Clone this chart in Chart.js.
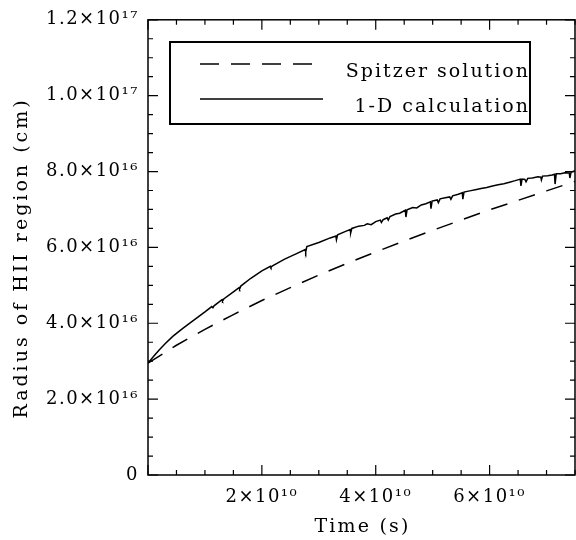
<!DOCTYPE html>
<html>
<head>
<meta charset="utf-8">
<script src="https://cdn.jsdelivr.net/npm/chart.js@4/dist/chart.umd.min.js"></script>
<style>
  html, body { margin: 0; padding: 0; background: #fff; }
</style>
</head>
<body>
<canvas id="myChart" width="576" height="540"></canvas>
<script>
// time in units of 1e10 s, radius in units of 1e16 cm
const spitzerTime = [0, 0.5, 1, 1.5, 2, 2.5, 3, 3.5, 4, 4.5, 5, 5.5, 6, 6.5, 7, 7.5];
const spitzerRadius = [2.95, 3.42, 3.84, 4.23, 4.60, 4.94, 5.27, 5.58, 5.88, 6.17, 6.45, 6.72, 6.99, 7.24, 7.49, 7.74];

const calcTime = [
  0.00, 0.10, 0.20, 0.30, 0.44, 0.60, 0.74, 0.90, 1.00, 1.12, 1.14, 1.16, 1.30, 1.31, 1.33,
  1.50, 1.60, 1.61, 1.63, 1.80, 2.00, 2.15, 2.16, 2.18, 2.40, 2.60, 2.76, 2.77, 2.79,
  3.00, 3.20, 3.30, 3.31, 3.33, 3.45, 3.55, 3.56, 3.58, 3.70, 3.80, 3.85, 3.92, 4.00,
  4.08, 4.10, 4.13, 4.20, 4.22, 4.25, 4.35, 4.42, 4.52, 4.53, 4.55, 4.65, 4.72, 4.80,
  4.88, 4.96, 4.97, 4.99, 5.08, 5.10, 5.13, 5.22, 5.30, 5.32, 5.35, 5.45, 5.52, 5.53,
  5.55, 5.65, 5.75, 5.85, 5.95, 6.05, 6.15, 6.25, 6.35, 6.45, 6.54, 6.55, 6.57, 6.62,
  6.64, 6.67, 6.75, 6.85, 6.90, 6.91, 6.93, 7.02, 7.10, 7.14, 7.15, 7.17, 7.25, 7.32,
  7.40, 7.41, 7.43, 7.50
];
const calcRadius = [
  2.95, 3.13, 3.30, 3.46, 3.66, 3.85, 4.01, 4.19, 4.30, 4.44, 4.41, 4.46, 4.62, 4.59, 4.64,
  4.83, 4.94, 4.91, 4.98, 5.18, 5.38, 5.50, 5.47, 5.51, 5.69, 5.83, 5.94, 5.88, 6.02,
  6.13, 6.25, 6.30, 6.20, 6.33, 6.41, 6.47, 6.38, 6.50, 6.56, 6.58, 6.62, 6.60, 6.68,
  6.72, 6.66, 6.73, 6.78, 6.72, 6.81, 6.88, 6.90, 6.98, 6.80, 6.99, 7.05, 7.04, 7.12,
  7.15, 7.20, 7.02, 7.22, 7.25, 7.18, 7.28, 7.31, 7.33, 7.27, 7.36, 7.40, 7.44, 7.27,
  7.46, 7.49, 7.52, 7.55, 7.58, 7.62, 7.65, 7.68, 7.72, 7.76, 7.80, 7.62, 7.80, 7.79,
  7.73, 7.82, 7.83, 7.86, 7.85, 7.78, 7.88, 7.89, 7.91, 7.93, 7.67, 7.94, 7.94, 7.97,
  7.96, 7.83, 7.98, 8.02
];

const xTickValues = [2, 4, 6];
const xTickLabels = ["2×10¹⁰", "4×10¹⁰", "6×10¹⁰"];
const yTickValues = [0, 2, 4, 6, 8, 10, 12];
const yTickLabels = ["0", "2.0×10¹⁶", "4.0×10¹⁶", "6.0×10¹⁶", "8.0×10¹⁶", "1.0×10¹⁷", "1.2×10¹⁷"];

const legendLabels = ["Spitzer solution", "1-D calculation"];
const xTitle = "Time (s)";
const yTitle = "Radius of HII region (cm)";

const FONT = "'DejaVu Serif', serif";

const toPoints = (xs, ys) => xs.map((v, i) => ({ x: v, y: ys[i] }));

// wide letters like the original plotting font
const spacing = {
  id: 'spacing',
  beforeDraw(chart) { chart.ctx.letterSpacing = '1.5px'; }
};

// box round the plot with inward ticks on all four sides, plus axis titles
const frameTicks = {
  id: 'frameTicks',
  afterDraw(chart) {
    const { ctx, chartArea: a, scales: { x, y } } = chart;
    ctx.save();
    ctx.strokeStyle = '#000';
    ctx.lineWidth = 1.5;
    ctx.strokeRect(a.left, a.top, a.right - a.left, a.bottom - a.top);
    ctx.lineWidth = 1.2;
    ctx.beginPath();
    for (let v = 0; v <= x.max + 0.001; v += 0.5) {
      const px = x.getPixelForValue(v);
      const len = (v % 2 === 0) ? 10 : 5;
      ctx.moveTo(px, a.bottom); ctx.lineTo(px, a.bottom - len);
      ctx.moveTo(px, a.top); ctx.lineTo(px, a.top + len);
    }
    for (let v = 0; v <= y.max + 0.001; v += 0.5) {
      const py = y.getPixelForValue(v);
      const len = (v % 2 === 0) ? 10 : 5;
      ctx.moveTo(a.left, py); ctx.lineTo(a.left + len, py);
      ctx.moveTo(a.right, py); ctx.lineTo(a.right - len, py);
    }
    ctx.stroke();

    ctx.fillStyle = '#000';
    ctx.font = "19px " + FONT;
    ctx.textAlign = 'center';
    ctx.textBaseline = 'middle';
    ctx.letterSpacing = '2.2px';
    ctx.fillText(xTitle, (a.left + a.right) / 2 + 1, 527);
    ctx.translate(22, 258);
    ctx.rotate(-Math.PI / 2);
    ctx.letterSpacing = '3px';
    ctx.fillText(yTitle, 0, 0);
    ctx.restore();
  }
};

const boxLegend = {
  id: 'boxLegend',
  afterDraw(chart) {
    const ctx = chart.ctx;
    ctx.save();
    ctx.strokeStyle = '#000';
    ctx.lineWidth = 2;
    ctx.strokeRect(170, 42, 360, 82);
    ctx.lineWidth = 1.5;
    ctx.setLineDash([19, 12]);
    ctx.beginPath(); ctx.moveTo(200, 64); ctx.lineTo(323, 64); ctx.stroke();
    ctx.setLineDash([]);
    ctx.beginPath(); ctx.moveTo(200, 99); ctx.lineTo(323, 99); ctx.stroke();
    ctx.fillStyle = '#000';
    ctx.font = "19px " + FONT;
    ctx.letterSpacing = '2px';
    ctx.textAlign = 'right';
    ctx.textBaseline = 'alphabetic';
    ctx.fillText(legendLabels[0], 530, 77);
    ctx.fillText(legendLabels[1], 530, 112);
    ctx.restore();
  }
};

const ctx = document.getElementById('myChart');

new Chart(ctx, {
  type: 'scatter',
  data: {
    datasets: [{
      label: legendLabels[0],
      data: toPoints(spitzerTime, spitzerRadius),
      showLine: true,
      borderColor: '#000',
      borderWidth: 1.5,
      borderDash: [17, 12],
      pointRadius: 0,
      tension: 0
    }, {
      label: legendLabels[1],
      data: toPoints(calcTime, calcRadius),
      showLine: true,
      borderColor: '#000',
      borderWidth: 1.5,
      pointRadius: 0,
      tension: 0
    }]
  },
  options: {
    responsive: false,
    animation: false,
    layout: { padding: { top: 10, right: 1, left: 0, bottom: 0 } },
    plugins: {
      legend: { display: false },
      tooltip: { enabled: false }
    },
    scales: {
      x: {
        type: 'linear',
        min: 0,
        max: 7.5,
        grid: { display: false, drawTicks: false },
        border: { display: false },
        afterBuildTicks: (scale) => { scale.ticks = xTickValues.map(v => ({ value: v })); },
        afterFit: (scale) => { scale.height = 65; },
        ticks: {
          color: '#000',
          font: { family: FONT, size: 18 },
          padding: 12,
          maxRotation: 0,
          callback: (val, i) => xTickLabels[i]
        }
      },
      y: {
        type: 'linear',
        min: 0,
        max: 12,
        grid: { display: false, drawTicks: false },
        border: { display: false },
        afterBuildTicks: (scale) => { scale.ticks = yTickValues.map(v => ({ value: v })); },
        afterFit: (scale) => { scale.width = 148; },
        ticks: {
          color: '#000',
          font: { family: FONT, size: 18 },
          padding: 9,
          callback: (val, i) => yTickLabels[i]
        }
      }
    }
  },
  plugins: [spacing, frameTicks, boxLegend]
});
</script>
</body>
</html>
